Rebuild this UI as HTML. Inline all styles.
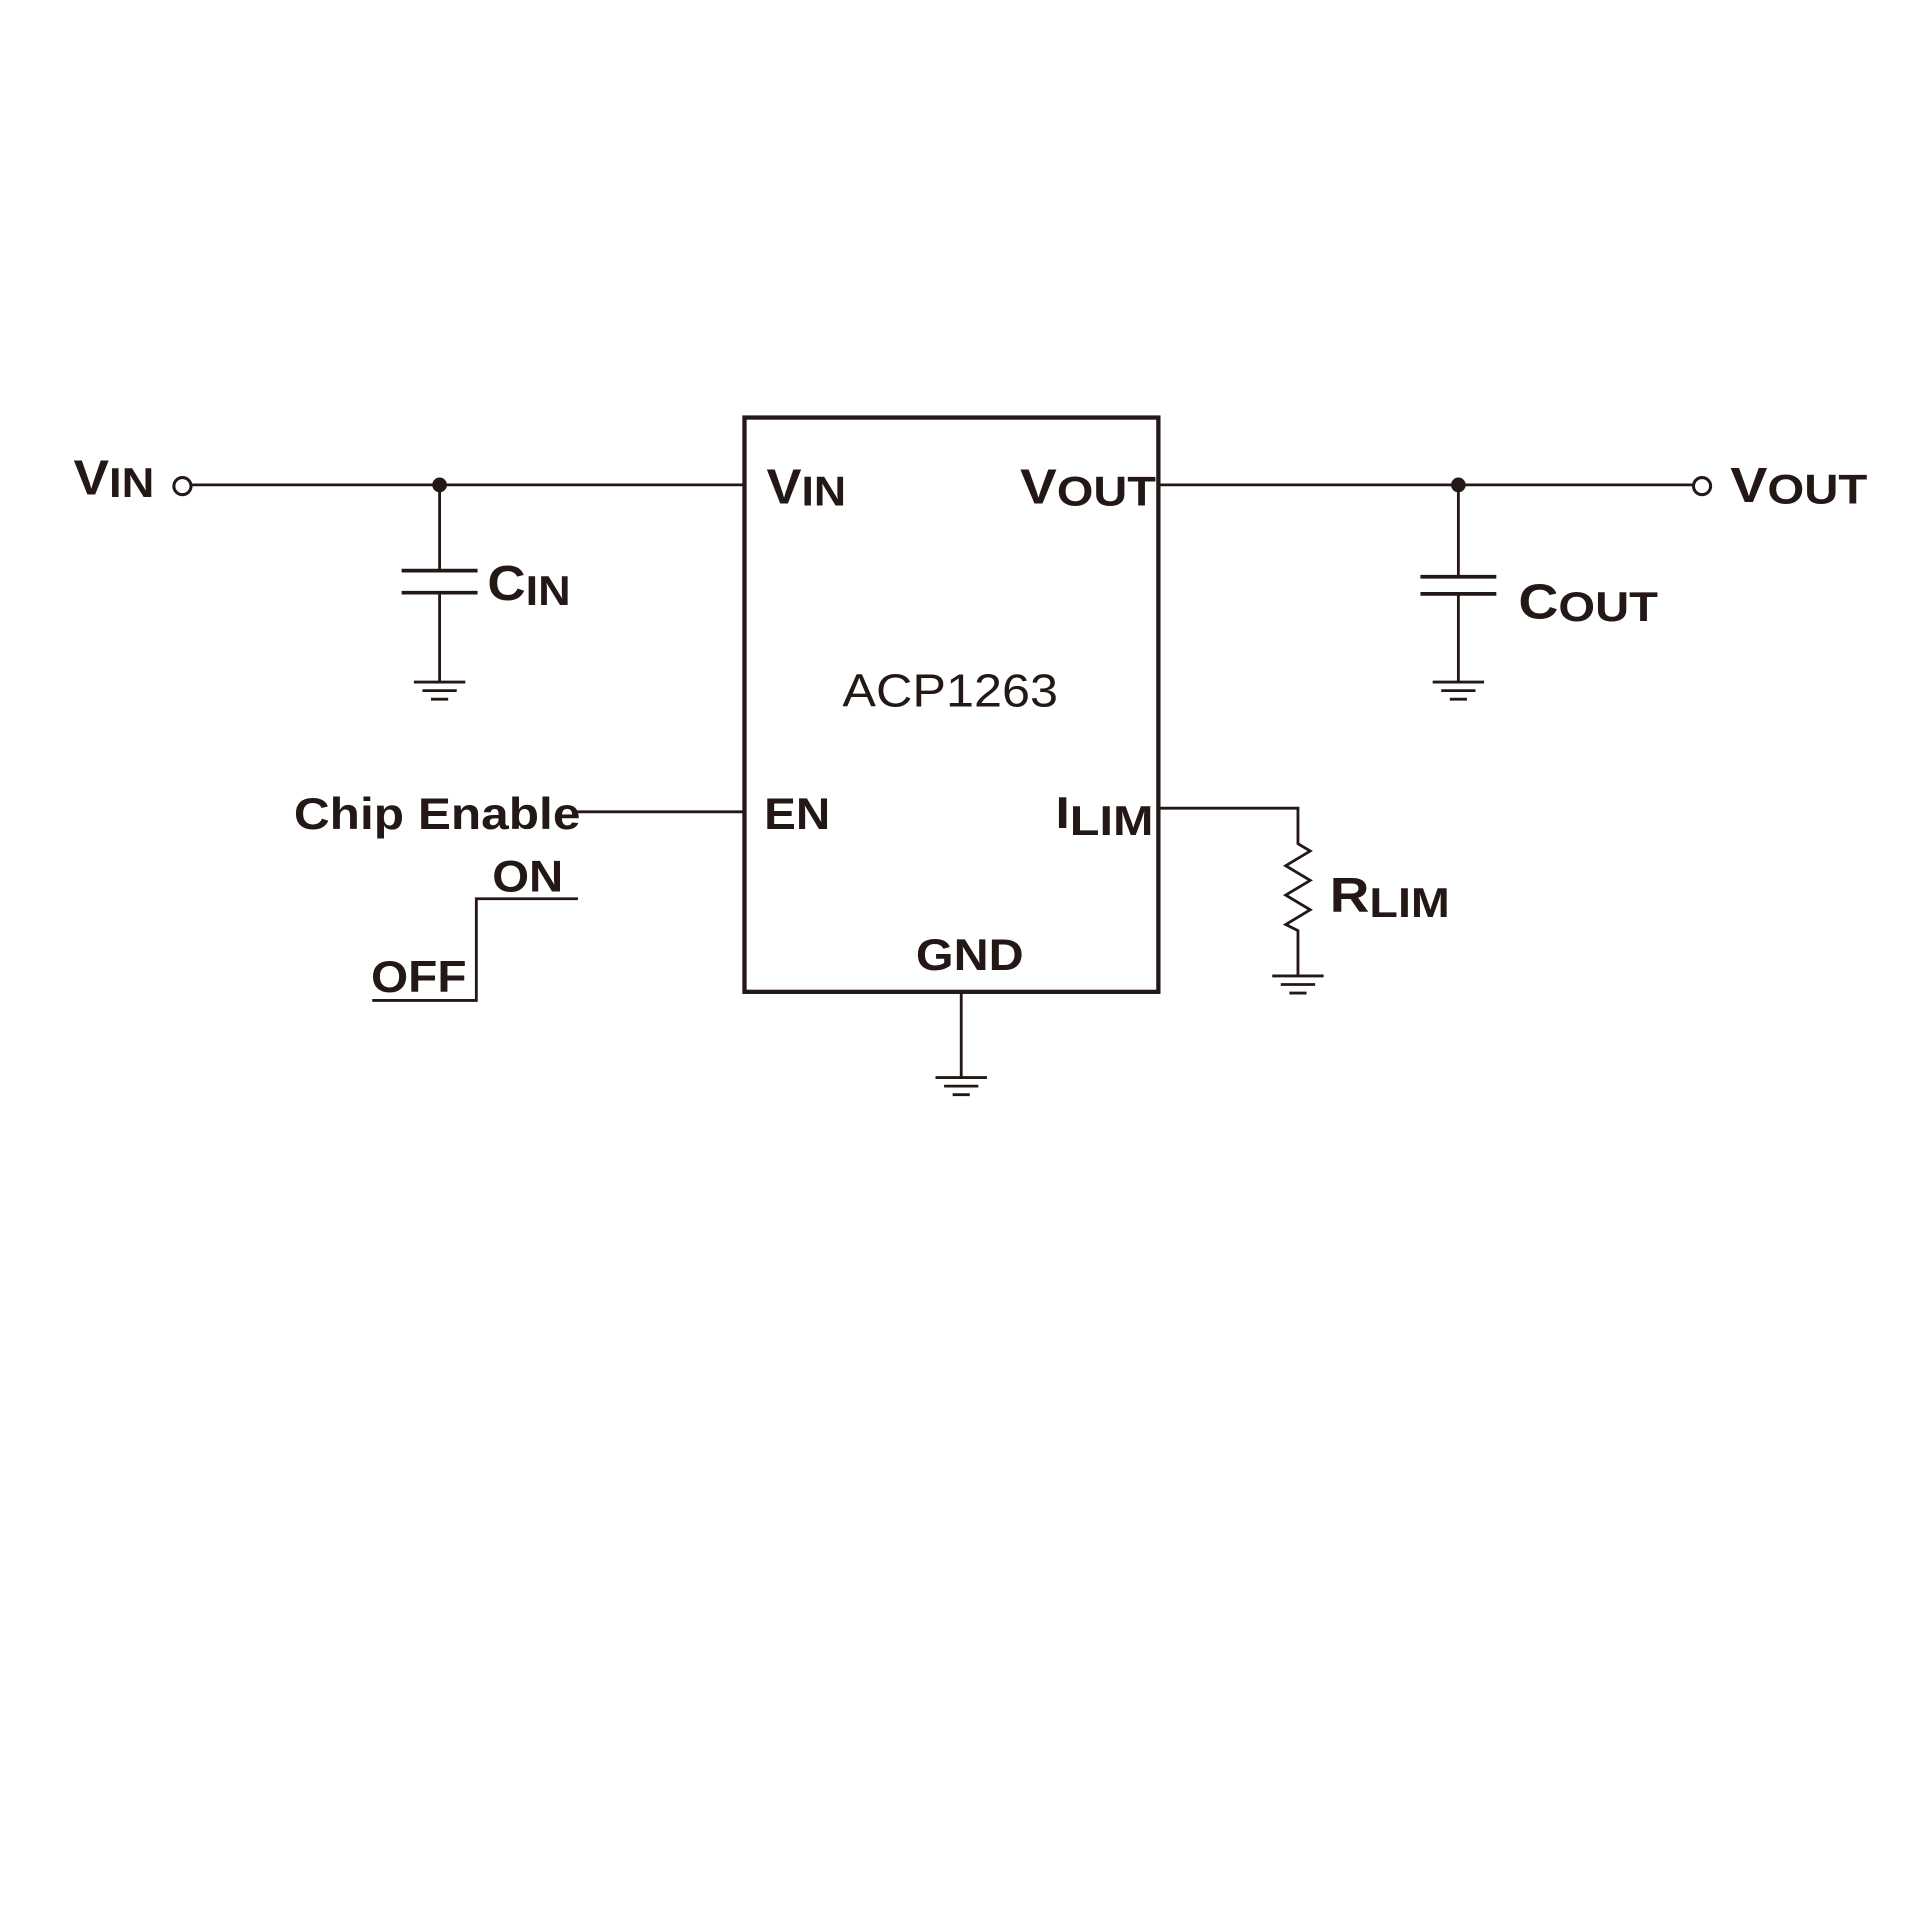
<!DOCTYPE html>
<html><head><style>
html,body{margin:0;padding:0;background:#fff;}
svg{display:block;}
text{font-family:"Liberation Sans",Arial,sans-serif;fill:#231815;}
.b{font-weight:bold;}
</style></head><body>
<svg width="1920" height="1920" viewBox="0 0 1568 1568" xmlns="http://www.w3.org/2000/svg">
<g stroke="#231815" fill="none" stroke-width="2.3">
<rect x="608" y="341" width="338" height="469" stroke-width="3.5"/>
<line x1="156" y1="396" x2="608" y2="396"/>
<circle cx="149" cy="397" r="7" stroke-width="2.5"/>
<line x1="359" y1="396" x2="359" y2="466"/>
<line x1="328" y1="466" x2="390" y2="466" stroke-width="3"/>
<line x1="328" y1="484" x2="390" y2="484" stroke-width="3"/>
<line x1="359" y1="484" x2="359" y2="557"/>
<line x1="338" y1="557" x2="380" y2="557"/><line x1="345" y1="564" x2="373" y2="564"/><line x1="352" y1="571" x2="366" y2="571"/>
<line x1="946" y1="396" x2="1382" y2="396"/>
<circle cx="1390" cy="397" r="7" stroke-width="2.5"/>
<line x1="1191" y1="396" x2="1191" y2="471"/>
<line x1="1160" y1="471" x2="1222" y2="471" stroke-width="3"/>
<line x1="1160" y1="485" x2="1222" y2="485" stroke-width="3"/>
<line x1="1191" y1="485" x2="1191" y2="557"/>
<line x1="1170" y1="557" x2="1212" y2="557"/><line x1="1177" y1="564" x2="1205" y2="564"/><line x1="1184" y1="571" x2="1198" y2="571"/>
<line x1="470" y1="663" x2="608" y2="663"/>
<polyline points="946,660 1060,660 1060,689 1070,695 1050,707 1070,719 1050,731 1070,743 1050,755 1060,760 1060,797"/>
<line x1="1039" y1="797" x2="1081" y2="797"/><line x1="1046" y1="804" x2="1074" y2="804"/><line x1="1053" y1="811" x2="1067" y2="811"/>
<line x1="785" y1="810" x2="785" y2="880"/>
<line x1="764" y1="880" x2="806" y2="880"/><line x1="771" y1="887" x2="799" y2="887"/><line x1="778" y1="894" x2="792" y2="894"/>
<polyline points="304,817 389,817 389,734 472,734"/>
</g>
<circle cx="359" cy="396" r="6" fill="#231815"/>
<circle cx="1191" cy="396" r="6" fill="#231815"/>
<text class="b" x="60" y="404" font-size="40" textLength="66" lengthAdjust="spacingAndGlyphs">V<tspan font-size="34" dy="2">IN</tspan></text>
<text class="b" x="626" y="411" font-size="40" textLength="65" lengthAdjust="spacingAndGlyphs">V<tspan font-size="34" dy="2">IN</tspan></text>
<text class="b" x="833" y="411" font-size="40" textLength="111" lengthAdjust="spacingAndGlyphs">V<tspan font-size="34" dy="2">OUT</tspan></text>
<text class="b" x="1413" y="410" font-size="40" textLength="112" lengthAdjust="spacingAndGlyphs">V<tspan font-size="34" dy="1">OUT</tspan></text>
<text class="b" x="398" y="490" font-size="40" textLength="68" lengthAdjust="spacingAndGlyphs">C<tspan font-size="34" dy="4">IN</tspan></text>
<text class="b" x="1240" y="505" font-size="40" textLength="114" lengthAdjust="spacingAndGlyphs">C<tspan font-size="34" dy="2">OUT</tspan></text>
<text x="688" y="577" font-size="38" textLength="176" lengthAdjust="spacingAndGlyphs">ACP1263</text>
<text class="b" x="240" y="677" font-size="36" textLength="234" lengthAdjust="spacingAndGlyphs">Chip Enable</text>
<text class="b" x="624" y="677" font-size="36" textLength="54" lengthAdjust="spacingAndGlyphs">EN</text>
<text class="b" x="862" y="676" font-size="36" textLength="80" lengthAdjust="spacingAndGlyphs">I<tspan font-size="34" dy="6">LIM</tspan></text>
<text class="b" x="1086" y="745" font-size="40" textLength="98" lengthAdjust="spacingAndGlyphs">R<tspan font-size="34" dy="4">LIM</tspan></text>
<text class="b" x="748" y="792" font-size="36" textLength="88" lengthAdjust="spacingAndGlyphs">GND</text>
<text class="b" x="402" y="728" font-size="36" textLength="58" lengthAdjust="spacingAndGlyphs">ON</text>
<text class="b" x="303" y="810" font-size="36" textLength="78" lengthAdjust="spacingAndGlyphs">OFF</text>
</svg>
</body></html>
